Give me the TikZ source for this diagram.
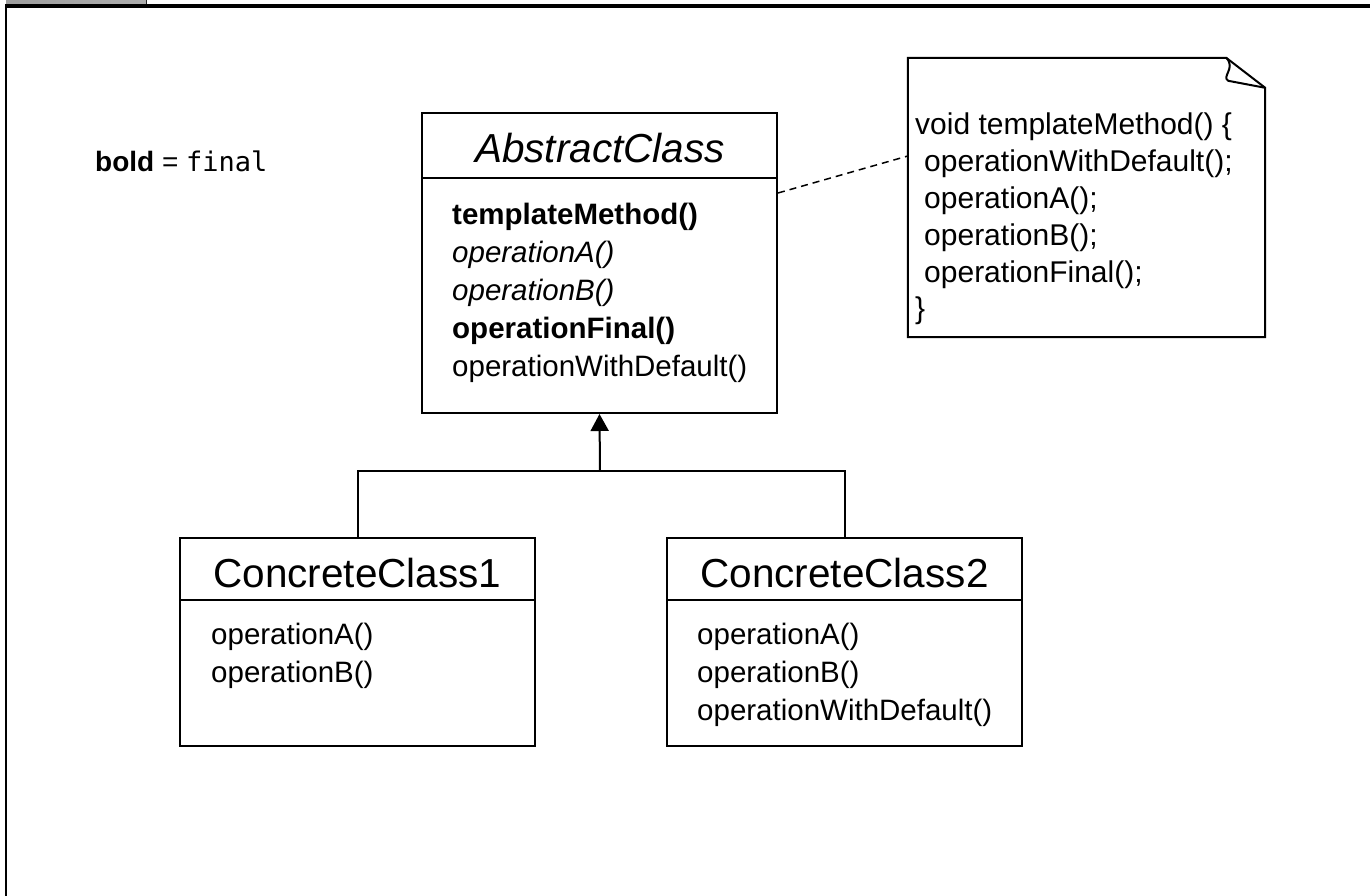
\documentclass[tikz,border=0pt]{standalone}
\usepackage{fontspec}
\setmainfont{Liberation Sans}
\newfontfamily\monofont{DejaVu Sans Mono}
\usetikzlibrary{arrows.meta,calc}
\begin{document}
\begin{tikzpicture}[x=1pt,y=-1pt,
  classbox/.style={draw=black, line width=2pt, rectangle, inner sep=0pt},
  hdr/.style={font=\fontsize{40.5}{48}\selectfont, anchor=base, inner sep=0pt},
  meth/.style={font=\fontsize{29.5}{36}\selectfont, anchor=base west, inner sep=0pt},
  notetxt/.style={font=\fontsize{30}{36}\selectfont, anchor=base west, inner sep=0pt},
  link/.style={line width=2pt, draw=black},
  sep/.style={line width=2pt, draw=black}]

\useasboundingbox (0,0) rectangle (1370,896);

% frame
\shade[left color=black!38, middle color=black!10, right color=black!32] (6,0) rectangle (146,4);
\draw[line width=1pt, black!85] (146,0) -- (146,4);
\draw[line width=4pt] (5,6) -- (1370,6);
\draw[line width=2pt] (6,4) -- (6,896);

% legend
\node[anchor=base west, inner sep=0pt] (legend) at (95,172)
  {\fontsize{28}{32}\selectfont\textbf{bold} = {\monofont\fontsize{27}{30}\selectfont final}};

% abstract class
\node[classbox, minimum width=355pt, minimum height=300pt] (abs) at (599.5,263) {};
\draw[sep] ($(abs.north west)+(0,66)$) -- ($(abs.north east)+(0,66)$);
\node[hdr] (absname) at (600,163) {\itshape AbstractClass};
\node[meth] (absm1) at (452,224) {\textbf{templateMethod()}};
\node[meth] (absm2) at (452,262) {\itshape operationA()};
\node[meth] (absm3) at (452,300) {\itshape operationB()};
\node[meth] (absm4) at (452,338) {\textbf{operationFinal()}};
\node[meth] (absm5) at (452,376) {operationWithDefault()};

% concrete class 1
\node[classbox, minimum width=355pt, minimum height=208pt] (c1) at (357.5,642) {};
\draw[sep] ($(c1.north west)+(0,63)$) -- ($(c1.north east)+(0,63)$);
\node[hdr] (c1name) at (357.5,587) {ConcreteClass1};
\node[meth] (c1m1) at (211,644) {operationA()};
\node[meth] (c1m2) at (211,682) {operationB()};

% concrete class 2
\node[classbox, minimum width=355pt, minimum height=208pt] (c2) at (844.5,642) {};
\draw[sep] ($(c2.north west)+(0,63)$) -- ($(c2.north east)+(0,63)$);
\node[hdr] (c2name) at (844.5,587) {ConcreteClass2};
\node[meth] (c2m1) at (697,644) {operationA()};
\node[meth] (c2m2) at (697,682) {operationB()};
\node[meth] (c2m3) at (697,720) {operationWithDefault()};

% generalization
\coordinate (junc) at (600,471);
\draw[link] (c1.north) |- (junc) -| (c2.north);
\draw[link, -{Triangle[length=17pt,width=18pt]}] (junc) -- (abs.south);

% note
\node[minimum width=357pt, minimum height=279pt, inner sep=0pt] (note) at (1086.5,197.5) {};
\draw[line width=2pt, line join=miter]
  (note.north west) -- ($(note.north east)+(-39,0)$) coordinate (f1)
  -- ($(note.north east)+(0,30)$) coordinate (f2)
  -- (note.south east) -- (note.south west) -- cycle;
\coordinate (f3) at ($(f1)+(2,23)$);
\draw[line width=2pt, line join=round]
  (f1) .. controls ($(f1)+(10,10)$) and ($(f1)+(-5,19)$) .. (f3) -- (f2);
\node[notetxt] (n1) at (915,135) {void templateMethod() \{};
\node[notetxt] (n2) at (915,172) {\hspace*{9pt}operationWithDefault();};
\node[notetxt] (n3) at (915,208) {\hspace*{9pt}operationA();};
\node[notetxt] (n4) at (915,245) {\hspace*{9pt}operationB();};
\node[notetxt] (n5) at (915,282) {\hspace*{9pt}operationFinal();};
\node[notetxt] (n6) at (915,318) {\}};

% note link
\coordinate (d1) at (abs.east |- 0,193);
\coordinate (d2) at (note.west |- 0,156);
\draw[line width=1.5pt, dash pattern=on 7pt off 5pt] (d1) -- (d2);
\end{tikzpicture}
\end{document}
